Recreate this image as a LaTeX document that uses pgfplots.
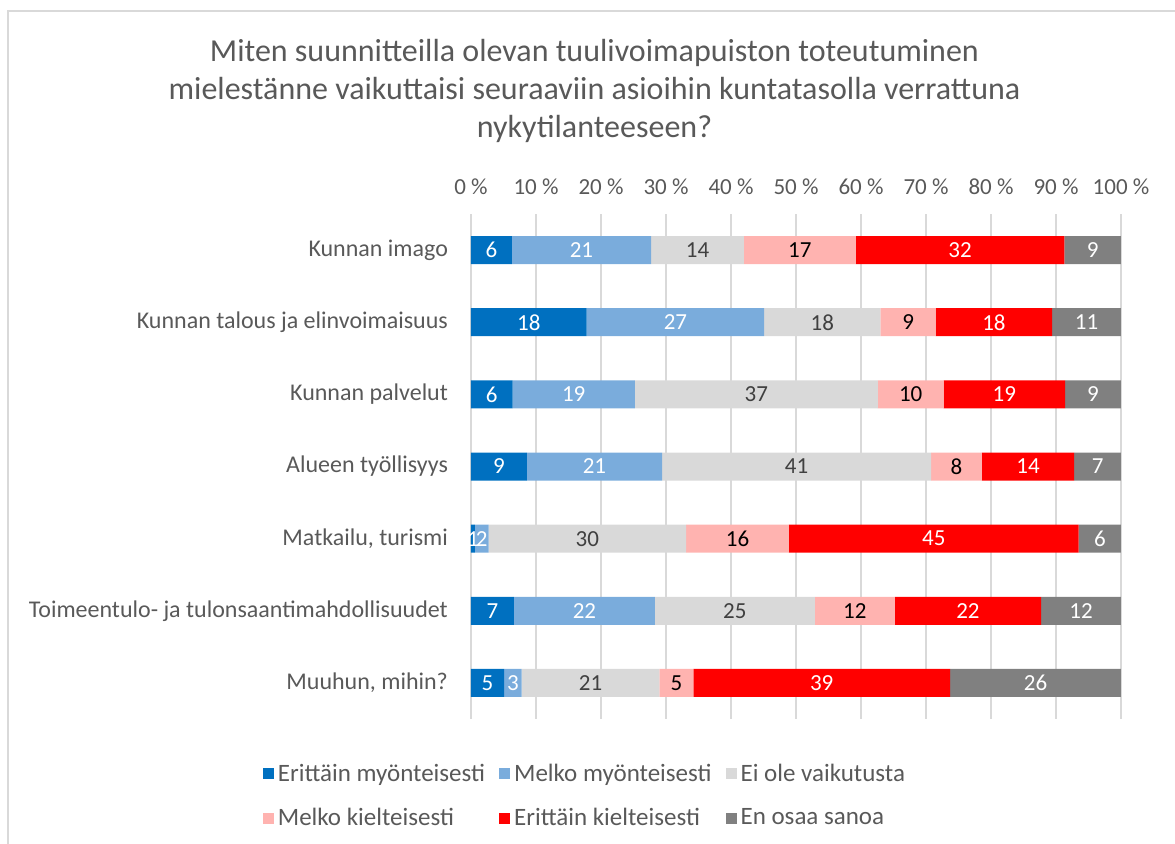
\documentclass[border=0pt]{standalone}
\usepackage{fontspec}
\setmainfont{Carlito}
\usepackage{pgfplots}
\usepackage{pgfplotstable}
\pgfplotsset{compat=1.18}

\definecolor{cA}{HTML}{0070C0}
\definecolor{cB}{HTML}{7AACDC}
\definecolor{cC}{HTML}{D9D9D9}
\definecolor{cD}{HTML}{FFB3B0}
\definecolor{cE}{HTML}{FF0000}
\definecolor{cF}{HTML}{808080}
\definecolor{txt}{HTML}{595959}
\definecolor{gridc}{HTML}{D9D9D9}

% shares in percent (v) and the printed, rounded labels (n)
\pgfplotstableread{
y v1 v2 v3 v4 v5 v6 n1 n2 n3 n4 n5 n6
0 6.3 21.4 14.3 17.2 32.1 8.7 6 21 14 17 32 9
1 17.8 27.3 17.9 8.5 17.9 10.6 18 27 18 9 18 11
2 6.4 18.8 37.4 10.1 18.7 8.6 6 19 37 10 19 9
3 8.6 20.8 41.4 7.8 14.2 7.2 9 21 41 8 14 7
4 0.6 2.1 30.4 15.8 44.6 6.5 1 2 30 16 45 6
5 6.6 21.7 24.6 12.3 22.5 12.3 7 22 25 12 22 12
6 5.1 2.7 21.2 5.2 39.5 26.3 5 3 21 5 39 26
}\data

\pgfplotsset{
  seg/.style 2 args={
    fill=#1, draw=none,
    nodes near coords, point meta=explicit,
    every node near coord/.append style={text=#2, anchor=center,
      font=\fontsize{11.5}{13}\selectfont},
  },
}

\begin{document}
\begin{tikzpicture}
\useasboundingbox (0,0) rectangle (587.5pt,-422pt);
\draw[gridc, line width=1pt] (4pt,-422pt) -- (4pt,-5.5pt) -- (587.5pt,-5.5pt);

\node[align=center, text=txt, font=\fontsize{16}{19}\selectfont] at (297.25pt,-45.5pt)
  {Miten suunnitteilla olevan tuulivoimapuiston toteutuminen\\
   mielestänne vaikuttaisi seuraaviin asioihin kuntatasolla verrattuna\\
   nykytilanteeseen?};

\begin{axis}[
  at={(235.5pt,-359.5pt)}, anchor=south west,
  scale only axis, width=325pt, height=252.5pt,
  xbar stacked, bar width=14pt,
  xmin=0, xmax=100, ymin=-0.5, ymax=6.5,
  y dir=reverse,
  xtick={0,10,...,100},
  xticklabel pos=upper,
  xticklabel={\pgfmathprintnumber{\tick}~\%},
  ytick={0,...,6},
  yticklabels={Kunnan imago, Kunnan talous ja elinvoimaisuus, Kunnan palvelut,
    Alueen työllisyys, {Matkailu, turismi}, Toimeentulo- ja tulonsaantimahdollisuudet,
    {Muuhun, mihin?}},
  /pgf/number format/assume math mode=true,
  major tick length=0pt,
  axis line style={draw=none},
  xmajorgrids, grid style={gridc, line width=0.9pt},
  tick label style={text=txt},
  xticklabel style={yshift=6pt, font=\fontsize{11.5}{13}\selectfont},
  yticklabel style={xshift=-8pt, font=\fontsize{12}{14}\selectfont},
  legend columns=3,
  legend cell align=left,
  legend style={at={(-0.33,-0.072)}, anchor=north west, draw=none, fill=none,
    text=txt, font=\fontsize{12.5}{14}\selectfont, row sep=8pt,
    /tikz/every even column/.append style={column sep=5pt}},
  legend image code/.code={\fill[#1] (0pt,-2.75pt) rectangle (5.5pt,2.75pt);},
]
\addplot[seg={cA}{white}] table[x=v1, y=y, meta=n1] {\data};
\addplot[seg={cB}{white}] table[x=v2, y=y, meta=n2] {\data};
\addplot[seg={cC}{black!75}] table[x=v3, y=y, meta=n3] {\data};
\addplot[seg={cD}{black}] table[x=v4, y=y, meta=n4] {\data};
\addplot[seg={cE}{white}] table[x=v5, y=y, meta=n5] {\data};
\addplot[seg={cF}{white}] table[x=v6, y=y, meta=n6] {\data};
\legend{Erittäin myönteisesti, Melko myönteisesti, Ei ole vaikutusta,
  Melko kielteisesti, Erittäin kielteisesti, En osaa sanoa}
\end{axis}
\end{tikzpicture}
\end{document}
